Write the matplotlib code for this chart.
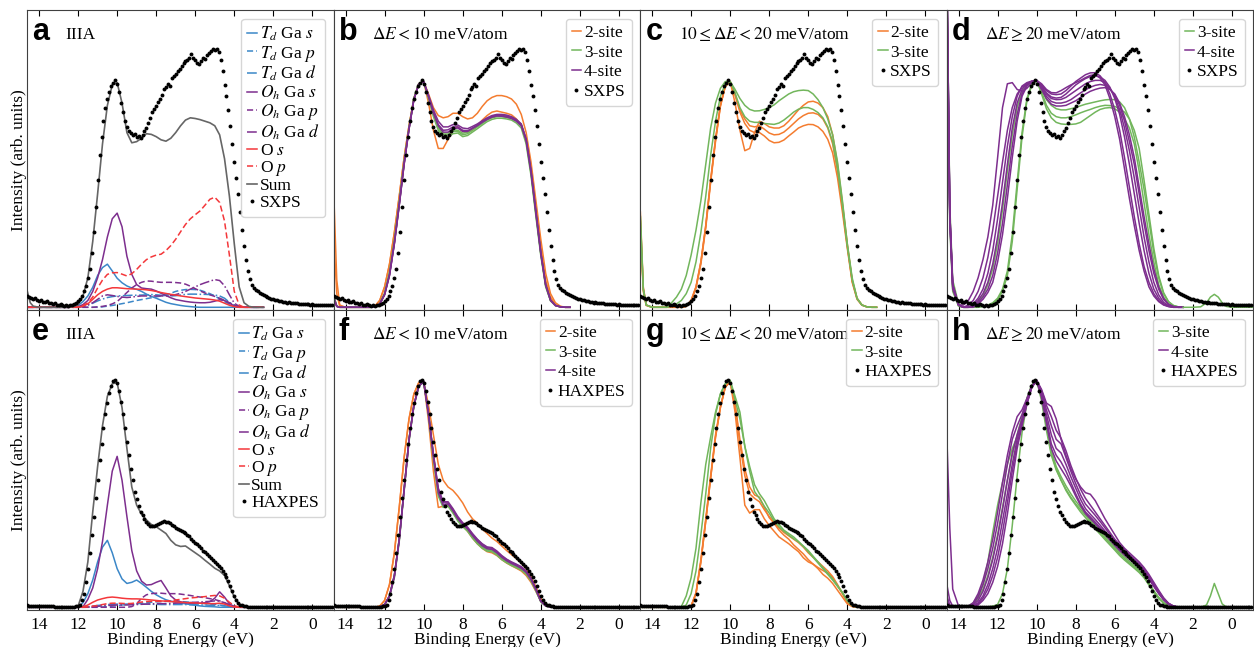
import numpy as np
import matplotlib
matplotlib.use("Agg")
import matplotlib.pyplot as plt

plt.rcParams["font.family"] = ["Liberation Serif", "DejaVu Serif"]
plt.rcParams["mathtext.fontset"] = "stix"

# ---- energy axes (eV) ----
E_DATA = np.round(np.linspace(14.6, -1.0, 157), 2)
E_MODEL = np.concatenate([[14.6, 14.45, 14.3], np.arange(14.0, 2.49, -0.25)])
E_TAIL = [2.5, 2.0, 1.6, 1.3, 1.1, 0.9, 0.7, 0.5, 0.3, 0.0, -1.1]

# ---- experiment ----
SXPS = [0.050, 0.045, 0.041, 0.036, 0.039, 0.031, 0.028, 0.033, 0.025, 0.022,
        0.026, 0.020, 0.018, 0.015, 0.017, 0.012, 0.010, 0.013, 0.008, 0.006,
        0.009, 0.007, 0.010, 0.012, 0.015, 0.020, 0.027, 0.035, 0.050, 0.070,
        0.095, 0.13, 0.17, 0.24, 0.33, 0.44, 0.56, 0.67, 0.75, 0.82,
        0.88, 0.92, 0.95, 0.975, 0.99, 1.0, 0.985, 0.95, 0.90, 0.86,
        0.82, 0.795, 0.775, 0.77, 0.76, 0.765, 0.75, 0.755, 0.745, 0.76,
        0.775, 0.79, 0.81, 0.835, 0.86, 0.875, 0.885, 0.905, 0.92, 0.935,
        0.96, 0.97, 0.985, 0.975, 1.01, 1.02, 1.03, 1.04, 1.05, 1.065,
        1.075, 1.085, 1.09, 1.10, 1.115, 1.10, 1.09, 1.075, 1.07, 1.085,
        1.10, 1.095, 1.11, 1.12, 1.13, 1.14, 1.135, 1.14, 1.125, 1.09,
        1.04, 0.98, 0.93, 0.87, 0.80, 0.72, 0.64, 0.57, 0.50, 0.42,
        0.34, 0.27, 0.21, 0.16, 0.125, 0.10, 0.085, 0.075, 0.07, 0.062,
        0.058, 0.052, 0.049, 0.044, 0.041, 0.037, 0.035, 0.031, 0.030, 0.027,
        0.026, 0.024, 0.025, 0.021, 0.022, 0.019, 0.020, 0.017, 0.018, 0.015,
        0.016, 0.014, 0.015, 0.013, 0.014, 0.012, 0.013, 0.011, 0.012, 0.011,
        0.012, 0.010, 0.011, 0.010, 0.011, 0.009, 0.010]

HAXPES = [0.008, 0.007, 0.007, 0.006, 0.006, 0.006, 0.005, 0.005, 0.005, 0.005,
          0.004, 0.004, 0.004, 0.004, 0.003, 0.003, 0.003, 0.003, 0.003, 0.003,
          0.003, 0.003, 0.003, 0.003, 0.003, 0.004, 0.006, 0.012, 0.03, 0.06,
          0.11, 0.17, 0.24, 0.32, 0.40, 0.48, 0.56, 0.65, 0.72, 0.79,
          0.85, 0.90, 0.945, 0.975, 0.995, 1.0, 0.99, 0.955, 0.905, 0.85,
          0.79, 0.73, 0.67, 0.61, 0.56, 0.51, 0.475, 0.445, 0.42, 0.405,
          0.39, 0.375, 0.365, 0.36, 0.357, 0.358, 0.362, 0.368, 0.373, 0.376,
          0.378, 0.377, 0.374, 0.37, 0.364, 0.357, 0.35, 0.345, 0.34, 0.335,
          0.33, 0.326, 0.32, 0.312, 0.303, 0.294, 0.285, 0.277, 0.268, 0.26,
          0.25, 0.242, 0.235, 0.226, 0.217, 0.208, 0.2, 0.192, 0.183, 0.172,
          0.16, 0.147, 0.132, 0.115, 0.095, 0.072, 0.05, 0.032, 0.02, 0.012,
          0.008, 0.005, 0.004, 0.003, 0.003, 0.003, 0.003, 0.003, 0.003, 0.003,
          0.003, 0.003, 0.002, 0.003, 0.003, 0.002, 0.003, 0.003, 0.002, 0.003,
          0.003, 0.002, 0.003, 0.003, 0.002, 0.003, 0.003, 0.002, 0.003, 0.003,
          0.002, 0.003, 0.003, 0.002, 0.003, 0.003, 0.002, 0.003, 0.003, 0.002,
          0.003, 0.003, 0.002, 0.003, 0.003, 0.002, 0.003]

# ---- panel a: projected DOS, IIIA vs SXPS ----
A_TD_S = [0, 0, 0, 0, 0, 0, 0, 0, 0, 0,
          0.002, 0.008, 0.025, 0.05, 0.088, 0.14, 0.175, 0.19, 0.16, 0.128,
          0.108, 0.094, 0.085, 0.079, 0.07, 0.058, 0.048, 0.04, 0.031, 0.022,
          0.016, 0.012, 0.008, 0.005, 0.003, 0.001, 0, 0, 0, 0,
          0, 0, 0, 0, 0, 0, 0, 0, 0, 0]
A_TD_P = [0, 0, 0, 0, 0, 0, 0, 0, 0, 0,
          0, 0, 0, 0, 0, 0, 0.002, 0.005, 0.008, 0.012,
          0.016, 0.02, 0.025, 0.03, 0.034, 0.038, 0.042, 0.046, 0.05, 0.055,
          0.062, 0.07, 0.075, 0.078, 0.079, 0.078, 0.075, 0.068, 0.06, 0.05,
          0.037, 0.025, 0.014, 0.006, 0.001, 0, 0, 0, 0, 0]
A_TD_D = [0, 0, 0, 0, 0, 0, 0, 0, 0, 0,
          0.001, 0.002, 0.005, 0.01, 0.018, 0.028, 0.036, 0.043, 0.047, 0.05,
          0.051, 0.052, 0.053, 0.053, 0.054, 0.055, 0.056, 0.055, 0.053, 0.051,
          0.05, 0.051, 0.054, 0.057, 0.058, 0.058, 0.057, 0.057, 0.056, 0.054,
          0.05, 0.04, 0.022, 0.008, 0.002, 0, 0, 0, 0, 0]
A_OH_S = [0, 0, 0, 0, 0, 0, 0, 0, 0, 0,
          0, 0.002, 0.012, 0.03, 0.07, 0.13, 0.21, 0.31, 0.39, 0.415,
          0.355, 0.225, 0.145, 0.1, 0.085, 0.082, 0.08, 0.072, 0.062, 0.052,
          0.042, 0.034, 0.03, 0.026, 0.023, 0.021, 0.02, 0.02, 0.022, 0.027,
          0.033, 0.03, 0.018, 0.006, 0, 0, 0, 0, 0, 0]
A_OH_P = [0, 0, 0, 0, 0, 0, 0, 0, 0, 0,
          0, 0, 0, 0, 0, 0.002, 0.004, 0.008, 0.015, 0.025,
          0.045, 0.065, 0.085, 0.1, 0.11, 0.116, 0.115, 0.112, 0.11, 0.11,
          0.11, 0.109, 0.107, 0.102, 0.093, 0.082, 0.072, 0.063, 0.055, 0.048,
          0.04, 0.031, 0.02, 0.008, 0.002, 0, 0, 0, 0, 0]
A_OH_D = [0, 0, 0, 0, 0, 0, 0, 0, 0, 0,
          0, 0, 0.003, 0.01, 0.02, 0.035, 0.05, 0.055, 0.052, 0.048,
          0.045, 0.043, 0.045, 0.048, 0.05, 0.05, 0.05, 0.05, 0.05, 0.05,
          0.052, 0.056, 0.062, 0.07, 0.08, 0.09, 0.1, 0.108, 0.115, 0.122,
          0.118, 0.095, 0.055, 0.018, 0.004, 0, 0, 0, 0, 0]
A_O_S = [0, 0, 0, 0, 0, 0, 0, 0, 0, 0,
         0, 0, 0.005, 0.015, 0.035, 0.055, 0.07, 0.08, 0.086, 0.086,
         0.084, 0.082, 0.081, 0.08, 0.079, 0.077, 0.074, 0.07, 0.065, 0.061,
         0.057, 0.054, 0.05, 0.047, 0.044, 0.041, 0.039, 0.037, 0.035, 0.032,
         0.027, 0.018, 0.009, 0.003, 0, 0, 0, 0, 0, 0]
A_O_P = [0, 0, 0, 0, 0, 0, 0, 0, 0, 0,
         0, 0.002, 0.008, 0.02, 0.045, 0.085, 0.12, 0.145, 0.152, 0.153,
         0.146, 0.138, 0.148, 0.167, 0.19, 0.21, 0.222, 0.23, 0.234, 0.25,
         0.272, 0.3, 0.333, 0.365, 0.39, 0.408, 0.425, 0.45, 0.476, 0.485,
         0.462, 0.38, 0.23, 0.07, 0.01, 0, 0, 0, 0, 0]
A_SUM = [0.07, 0.02, 0.005, 0, 0, 0, 0, 0, 0, 0,
         0.003, 0.012, 0.05, 0.13, 0.29, 0.5, 0.72, 0.89, 0.98, 0.99,
         0.9, 0.77, 0.725, 0.73, 0.745, 0.765, 0.762, 0.752, 0.738, 0.732,
         0.745, 0.77, 0.8, 0.825, 0.835, 0.832, 0.827, 0.82, 0.813, 0.8,
         0.76, 0.655, 0.49, 0.28, 0.09, 0.02, 0.004, 0, 0, 0]

# ---- panel e: projected DOS, IIIA vs HAXPES ----
E_TD_S = [0, 0, 0, 0, 0, 0, 0, 0, 0, 0,
          0, 0.002, 0.02, 0.06, 0.12, 0.2, 0.265, 0.295, 0.24, 0.17,
          0.125, 0.105, 0.11, 0.12, 0.105, 0.088, 0.07, 0.055, 0.043, 0.033,
          0.027, 0.022, 0.018, 0.015, 0.012, 0.009, 0.006, 0.004, 0.003, 0.002,
          0, 0, 0, 0, 0, 0, 0, 0, 0, 0]
E_TD_P = [0, 0, 0, 0, 0, 0, 0, 0, 0, 0,
          0, 0, 0, 0, 0, 0, 0.001, 0.003, 0.005, 0.008,
          0.01, 0.012, 0.013, 0.015, 0.018, 0.02, 0.022, 0.024, 0.025, 0.026,
          0.026, 0.026, 0.025, 0.024, 0.022, 0.02, 0.018, 0.016, 0.014, 0.012,
          0.01, 0.007, 0.004, 0.002, 0, 0, 0, 0, 0, 0]
E_TD_D = [0, 0, 0, 0, 0, 0, 0, 0, 0, 0,
          0, 0, 0, 0.002, 0.005, 0.008, 0.01, 0.012, 0.013, 0.014,
          0.014, 0.014, 0.014, 0.014, 0.014, 0.014, 0.013, 0.013, 0.012, 0.012,
          0.012, 0.012, 0.012, 0.012, 0.011, 0.011, 0.01, 0.01, 0.009, 0.009,
          0.008, 0.006, 0.004, 0.002, 0, 0, 0, 0, 0, 0]
E_OH_S = [0, 0, 0, 0, 0, 0, 0, 0, 0, 0,
          0, 0, 0.002, 0.035, 0.085, 0.17, 0.29, 0.45, 0.6, 0.665,
          0.56, 0.4, 0.25, 0.16, 0.115, 0.098, 0.1, 0.11, 0.118, 0.085,
          0.05, 0.032, 0.024, 0.02, 0.018, 0.018, 0.018, 0.02, 0.025, 0.04,
          0.068, 0.045, 0.015, 0.003, 0, 0, 0, 0, 0, 0]
E_OH_P = [0, 0, 0, 0, 0, 0, 0, 0, 0, 0,
          0, 0, 0, 0, 0, 0, 0, 0, 0, 0,
          0, 0, 0.003, 0.015, 0.04, 0.055, 0.06, 0.062, 0.062, 0.06,
          0.06, 0.06, 0.058, 0.055, 0.052, 0.048, 0.045, 0.042, 0.038, 0.034,
          0.028, 0.02, 0.01, 0.003, 0, 0, 0, 0, 0, 0]
E_OH_D = [0, 0, 0, 0, 0, 0, 0, 0, 0, 0,
          0, 0, 0, 0, 0.002, 0.004, 0.006, 0.008, 0.009, 0.01,
          0.01, 0.01, 0.011, 0.012, 0.013, 0.014, 0.015, 0.016, 0.016, 0.016,
          0.017, 0.018, 0.019, 0.02, 0.021, 0.022, 0.023, 0.025, 0.026, 0.028,
          0.027, 0.02, 0.01, 0.002, 0, 0, 0, 0, 0, 0]
E_O_S = [0, 0, 0, 0, 0, 0, 0, 0, 0, 0,
         0, 0, 0.002, 0.01, 0.022, 0.032, 0.038, 0.043, 0.045, 0.043,
         0.04, 0.038, 0.037, 0.037, 0.036, 0.034, 0.032, 0.03, 0.028, 0.027,
         0.025, 0.024, 0.022, 0.021, 0.02, 0.019, 0.018, 0.017, 0.016, 0.016,
         0.018, 0.014, 0.006, 0.001, 0, 0, 0, 0, 0, 0]
E_O_P = [0, 0, 0, 0, 0, 0, 0, 0, 0, 0,
         0, 0, 0, 0.002, 0.005, 0.008, 0.012, 0.016, 0.018, 0.018,
         0.017, 0.016, 0.017, 0.02, 0.023, 0.025, 0.026, 0.026, 0.026, 0.027,
         0.029, 0.032, 0.035, 0.038, 0.041, 0.043, 0.045, 0.047, 0.05, 0.052,
         0.05, 0.04, 0.022, 0.007, 0.001, 0, 0, 0, 0, 0]
E_SUM = [0, 0, 0, 0, 0, 0, 0, 0, 0, 0,
         0, 0.005, 0.07, 0.2, 0.42, 0.62, 0.8, 0.93, 0.985, 0.99,
         0.88, 0.7, 0.53, 0.45, 0.41, 0.385, 0.365, 0.355, 0.34, 0.325,
         0.295, 0.275, 0.268, 0.27, 0.255, 0.24, 0.225, 0.207, 0.19, 0.172,
         0.16, 0.14, 0.095, 0.045, 0.012, 0.002, 0, 0, 0, 0]

# ---- panel b: dE < 10 meV/atom, SXPS ----
B_2SITE = [
    [0.49, 0.12, 0.01, 0, 0, 0, 0, 0, 0, 0.005,
     0.03, 0.09, 0.19, 0.33, 0.49, 0.66, 0.8, 0.92, 0.985, 0.995,
     0.94, 0.88, 0.845, 0.835, 0.84, 0.855, 0.855, 0.84, 0.83, 0.835,
     0.855, 0.885, 0.91, 0.925, 0.933, 0.933, 0.928, 0.918, 0.895, 0.85,
     0.77, 0.64, 0.47, 0.3, 0.15, 0.06, 0.02, 0.005, 0, 0],
    [0.3, 0.06, 0.005, 0, 0, 0, 0, 0, 0, 0.005,
     0.03, 0.09, 0.19, 0.33, 0.49, 0.66, 0.8, 0.92, 0.985, 0.995,
     0.9, 0.78, 0.7, 0.7, 0.74, 0.785, 0.795, 0.775, 0.772, 0.78,
     0.8, 0.825, 0.845, 0.86, 0.865, 0.86, 0.855, 0.848, 0.83, 0.8,
     0.74, 0.61, 0.44, 0.27, 0.12, 0.045, 0.012, 0.003, 0, 0],
]
B_3SITE = [
    [0.05, 0.005, 0, 0, 0, 0, 0, 0, 0, 0.003,
     0.015, 0.06, 0.15, 0.29, 0.46, 0.64, 0.79, 0.92, 0.985, 0.995,
     0.925, 0.85, 0.79, 0.76, 0.76, 0.775, 0.775, 0.76, 0.765, 0.78,
     0.795, 0.81, 0.825, 0.835, 0.84, 0.84, 0.837, 0.832, 0.82, 0.8,
     0.73, 0.59, 0.41, 0.235, 0.095, 0.03, 0.008, 0.002, 0, 0],
    [0.04, 0.004, 0, 0, 0, 0, 0, 0, 0, 0.003,
     0.014, 0.058, 0.145, 0.285, 0.455, 0.635, 0.787, 0.918, 0.984, 0.995,
     0.92, 0.84, 0.78, 0.75, 0.75, 0.765, 0.768, 0.752, 0.757, 0.772,
     0.787, 0.803, 0.818, 0.828, 0.833, 0.833, 0.83, 0.825, 0.812, 0.79,
     0.72, 0.58, 0.4, 0.228, 0.09, 0.028, 0.007, 0.002, 0, 0],
    [0.05, 0.005, 0, 0, 0, 0, 0, 0, 0, 0.003,
     0.016, 0.062, 0.155, 0.295, 0.465, 0.645, 0.793, 0.922, 0.986, 0.995,
     0.93, 0.855, 0.797, 0.768, 0.768, 0.782, 0.78, 0.767, 0.772, 0.787,
     0.802, 0.817, 0.832, 0.842, 0.847, 0.847, 0.844, 0.838, 0.826, 0.806,
     0.736, 0.596, 0.415, 0.24, 0.098, 0.031, 0.008, 0.002, 0, 0],
]
B_4SITE = [
    [0.04, 0.004, 0, 0, 0, 0, 0, 0, 0, 0.003,
     0.014, 0.055, 0.14, 0.28, 0.45, 0.63, 0.785, 0.915, 0.983, 0.995,
     0.93, 0.86, 0.805, 0.78, 0.782, 0.795, 0.795, 0.78, 0.778, 0.79,
     0.803, 0.817, 0.83, 0.84, 0.845, 0.845, 0.842, 0.836, 0.825, 0.805,
     0.74, 0.6, 0.42, 0.24, 0.1, 0.032, 0.008, 0.002, 0, 0],
    [0.04, 0.004, 0, 0, 0, 0, 0, 0, 0, 0.003,
     0.014, 0.055, 0.14, 0.28, 0.45, 0.63, 0.785, 0.915, 0.983, 0.995,
     0.935, 0.87, 0.82, 0.795, 0.795, 0.805, 0.803, 0.79, 0.787, 0.797,
     0.808, 0.822, 0.835, 0.845, 0.85, 0.85, 0.847, 0.84, 0.828, 0.808,
     0.742, 0.605, 0.425, 0.245, 0.1, 0.032, 0.008, 0.002, 0, 0],
    [0.04, 0.004, 0, 0, 0, 0, 0, 0, 0, 0.003,
     0.015, 0.058, 0.145, 0.285, 0.455, 0.635, 0.788, 0.917, 0.984, 0.995,
     0.928, 0.855, 0.8, 0.772, 0.772, 0.787, 0.79, 0.775, 0.775, 0.788,
     0.8, 0.815, 0.828, 0.838, 0.843, 0.842, 0.838, 0.832, 0.82, 0.8,
     0.735, 0.595, 0.415, 0.238, 0.097, 0.03, 0.008, 0.002, 0, 0],
]

# ---- panel c: 10 <= dE < 20 meV/atom, SXPS ----
C_2SITE = [
    [0.42, 0.09, 0.01, 0, 0, 0, 0, 0, 0, 0,
     0.005, 0.03, 0.09, 0.2, 0.36, 0.56, 0.74, 0.89, 0.975, 0.995,
     0.9, 0.78, 0.69, 0.7, 0.77, 0.82, 0.81, 0.795, 0.79, 0.79,
     0.8, 0.82, 0.845, 0.87, 0.89, 0.905, 0.908, 0.9, 0.88, 0.84,
     0.76, 0.63, 0.46, 0.28, 0.12, 0.04, 0.01, 0.002, 0, 0],
    [0.38, 0.08, 0.01, 0, 0, 0, 0, 0, 0, 0,
     0.005, 0.03, 0.09, 0.2, 0.36, 0.56, 0.74, 0.89, 0.975, 0.995,
     0.94, 0.87, 0.83, 0.8, 0.795, 0.8, 0.785, 0.768, 0.76, 0.762,
     0.772, 0.79, 0.81, 0.83, 0.845, 0.855, 0.857, 0.85, 0.83, 0.79,
     0.72, 0.6, 0.44, 0.27, 0.115, 0.038, 0.01, 0.002, 0, 0],
    [0.35, 0.07, 0.008, 0, 0, 0, 0, 0, 0, 0,
     0.004, 0.025, 0.085, 0.19, 0.35, 0.55, 0.73, 0.885, 0.973, 0.995,
     0.935, 0.86, 0.81, 0.78, 0.77, 0.77, 0.755, 0.735, 0.725, 0.727,
     0.737, 0.755, 0.772, 0.79, 0.8, 0.806, 0.805, 0.795, 0.775, 0.74,
     0.68, 0.57, 0.42, 0.26, 0.11, 0.035, 0.009, 0.002, 0, 0],
]
C_3SITE = [
    [0.4, 0.08, 0.01, 0, 0, 0, 0, 0.02, 0.045, 0.08,
     0.14, 0.23, 0.34, 0.47, 0.63, 0.79, 0.9, 0.965, 0.995, 0.995,
     0.96, 0.92, 0.89, 0.872, 0.865, 0.866, 0.872, 0.88, 0.892, 0.91,
     0.925, 0.94, 0.95, 0.955, 0.957, 0.955, 0.94, 0.915, 0.88, 0.83,
     0.76, 0.64, 0.47, 0.28, 0.13, 0.04, 0.01, 0.002, 0, 0],
    [0.4, 0.08, 0.01, 0, 0, 0, 0, 0.005, 0.015, 0.03,
     0.06, 0.11, 0.2, 0.33, 0.49, 0.67, 0.82, 0.93, 0.985, 0.995,
     0.945, 0.88, 0.84, 0.82, 0.815, 0.815, 0.81, 0.808, 0.806, 0.812,
     0.825, 0.842, 0.86, 0.873, 0.88, 0.88, 0.872, 0.858, 0.835, 0.795,
     0.73, 0.61, 0.45, 0.27, 0.12, 0.038, 0.01, 0.002, 0, 0],
]

# ---- panel d: dE >= 20 meV/atom, SXPS ----
D_3SITE = [
    [1.5, 0.45, 0.12, 0.015, 0, 0, 0.01, 0.025, 0.05, 0.1,
     0.17, 0.28, 0.43, 0.6, 0.76, 0.88, 0.95, 0.98, 0.995, 1.0,
     0.96, 0.915, 0.89, 0.875, 0.87, 0.87, 0.875, 0.88, 0.888, 0.895,
     0.9, 0.905, 0.91, 0.914, 0.916, 0.915, 0.905, 0.88, 0.83, 0.75,
     0.64, 0.52, 0.38, 0.24, 0.13, 0.06, 0.025, 0.008, 0.002, 0],
    [1.4, 0.36, 0.07, 0.005, 0, 0, 0, 0, 0.005, 0.01,
     0.02, 0.04, 0.08, 0.16, 0.32, 0.55, 0.77, 0.92, 0.985, 1.0,
     0.95, 0.89, 0.855, 0.84, 0.835, 0.835, 0.84, 0.848, 0.857, 0.865,
     0.872, 0.88, 0.886, 0.89, 0.889, 0.885, 0.875, 0.86, 0.83, 0.78,
     0.7, 0.56, 0.41, 0.26, 0.14, 0.065, 0.025, 0.008, 0.002, 0],
    [1.45, 0.4, 0.08, 0.005, 0, 0, 0, 0, 0.004, 0.008,
     0.016, 0.033, 0.07, 0.14, 0.29, 0.52, 0.75, 0.91, 0.98, 1.0,
     0.94, 0.875, 0.835, 0.815, 0.808, 0.806, 0.806, 0.808, 0.815, 0.83,
     0.845, 0.86, 0.872, 0.878, 0.88, 0.875, 0.86, 0.83, 0.79, 0.72,
     0.6, 0.46, 0.32, 0.2, 0.1, 0.045, 0.016, 0.005, 0.001, 0],
]
D_4SITE = [
    [1.5, 0.42, 0.1, 0.01, 0.01, 0.03, 0.07, 0.13, 0.21, 0.31,
     0.45, 0.66, 0.88, 0.985, 0.99, 0.96, 0.952, 0.965, 0.99, 1.0,
     0.985, 0.96, 0.946, 0.945, 0.955, 0.968, 0.98, 0.99, 1.0, 1.012,
     1.022, 1.025, 1.01, 0.98, 0.92, 0.84, 0.74, 0.61, 0.48, 0.36,
     0.25, 0.16, 0.09, 0.05, 0.025, 0.01, 0.003, 0, 0, 0],
    [1.4, 0.38, 0.08, 0.01, 0, 0.01, 0.03, 0.07, 0.13, 0.22,
     0.34, 0.49, 0.64, 0.78, 0.88, 0.94, 0.97, 0.985, 0.995, 1.0,
     0.98, 0.955, 0.94, 0.937, 0.94, 0.955, 0.975, 0.995, 1.01, 1.025,
     1.033, 1.034, 1.02, 0.99, 0.94, 0.87, 0.78, 0.66, 0.53, 0.4,
     0.28, 0.18, 0.11, 0.06, 0.03, 0.012, 0.004, 0, 0, 0],
    [1.45, 0.4, 0.09, 0.01, 0, 0, 0.015, 0.04, 0.08, 0.15,
     0.25, 0.39, 0.55, 0.71, 0.84, 0.93, 0.975, 0.99, 0.997, 1.0,
     0.975, 0.945, 0.927, 0.922, 0.925, 0.94, 0.96, 0.98, 0.995, 1.008,
     1.017, 1.02, 1.015, 1.0, 0.97, 0.92, 0.85, 0.75, 0.63, 0.5,
     0.37, 0.25, 0.15, 0.08, 0.04, 0.015, 0.005, 0, 0, 0],
    [1.5, 0.42, 0.1, 0.01, 0, 0, 0.01, 0.03, 0.06, 0.11,
     0.19, 0.31, 0.46, 0.63, 0.79, 0.9, 0.96, 0.985, 0.996, 1.0,
     0.97, 0.94, 0.92, 0.915, 0.916, 0.925, 0.94, 0.955, 0.97, 0.985,
     0.995, 1.0, 1.0, 0.99, 0.965, 0.93, 0.87, 0.79, 0.69, 0.57,
     0.44, 0.31, 0.2, 0.11, 0.055, 0.022, 0.007, 0.002, 0, 0],
    [1.45, 0.4, 0.09, 0.01, 0, 0, 0.005, 0.02, 0.045, 0.08,
     0.14, 0.24, 0.37, 0.54, 0.71, 0.85, 0.94, 0.98, 0.995, 1.0,
     0.965, 0.93, 0.907, 0.9, 0.9, 0.905, 0.915, 0.93, 0.945, 0.958,
     0.97, 0.978, 0.982, 0.978, 0.962, 0.935, 0.89, 0.82, 0.73, 0.63,
     0.5, 0.37, 0.25, 0.15, 0.08, 0.035, 0.012, 0.003, 0, 0],
    [1.5, 0.42, 0.1, 0.01, 0, 0, 0, 0.015, 0.035, 0.065,
     0.11, 0.2, 0.32, 0.48, 0.66, 0.82, 0.93, 0.975, 0.995, 1.0,
     0.96, 0.92, 0.895, 0.887, 0.887, 0.89, 0.9, 0.91, 0.925, 0.94,
     0.952, 0.96, 0.966, 0.968, 0.96, 0.94, 0.9, 0.84, 0.76, 0.66,
     0.53, 0.4, 0.28, 0.17, 0.09, 0.04, 0.014, 0.004, 0, 0],
]
D_TAIL = [0, 0, 0.002, 0.02, 0.045, 0.057, 0.045, 0.02, 0.004, 0, 0]

# ---- panel f: dE < 10 meV/atom, HAXPES ----
F_2SITE = [
    [0.01, 0, 0, 0, 0, 0, 0, 0, 0, 0,
     0.005, 0.03, 0.1, 0.24, 0.44, 0.66, 0.83, 0.94, 0.99, 0.995,
     0.89, 0.76, 0.63, 0.56, 0.53, 0.515, 0.49, 0.46, 0.42, 0.39,
     0.37, 0.345, 0.325, 0.305, 0.29, 0.27, 0.25, 0.232, 0.215, 0.195,
     0.17, 0.135, 0.09, 0.04, 0.012, 0.003, 0, 0, 0, 0],
    [0.01, 0, 0, 0, 0, 0, 0, 0, 0, 0,
     0.005, 0.03, 0.1, 0.24, 0.44, 0.66, 0.83, 0.94, 0.99, 0.995,
     0.82, 0.6, 0.44, 0.445, 0.455, 0.43, 0.39, 0.36, 0.335, 0.305,
     0.28, 0.26, 0.245, 0.24, 0.228, 0.21, 0.195, 0.183, 0.172, 0.16,
     0.14, 0.11, 0.07, 0.028, 0.008, 0.002, 0, 0, 0, 0],
]
F_3SITE = [
    [0.008, 0, 0, 0, 0, 0, 0, 0, 0, 0,
     0.002, 0.012, 0.05, 0.14, 0.3, 0.52, 0.74, 0.89, 0.975, 0.995,
     0.85, 0.66, 0.5, 0.445, 0.45, 0.42, 0.385, 0.36, 0.34, 0.31,
     0.285, 0.265, 0.252, 0.25, 0.235, 0.215, 0.2, 0.188, 0.178, 0.168,
     0.15, 0.12, 0.075, 0.025, 0.006, 0.001, 0, 0, 0, 0],
    [0.008, 0, 0, 0, 0, 0, 0, 0, 0, 0,
     0.002, 0.01, 0.045, 0.13, 0.29, 0.51, 0.73, 0.885, 0.973, 0.995,
     0.845, 0.65, 0.49, 0.44, 0.445, 0.415, 0.38, 0.355, 0.335, 0.305,
     0.28, 0.26, 0.247, 0.245, 0.23, 0.21, 0.196, 0.184, 0.174, 0.164,
     0.146, 0.116, 0.072, 0.024, 0.006, 0.001, 0, 0, 0, 0],
    [0.008, 0, 0, 0, 0, 0, 0, 0, 0, 0,
     0.002, 0.012, 0.05, 0.14, 0.3, 0.52, 0.74, 0.89, 0.975, 0.995,
     0.855, 0.67, 0.51, 0.45, 0.455, 0.425, 0.39, 0.365, 0.345, 0.315,
     0.29, 0.27, 0.257, 0.254, 0.24, 0.22, 0.204, 0.192, 0.182, 0.172,
     0.154, 0.123, 0.078, 0.026, 0.006, 0.001, 0, 0, 0, 0],
]
F_4SITE = [
    [0.008, 0, 0, 0, 0, 0, 0, 0, 0, 0,
     0.002, 0.012, 0.05, 0.14, 0.3, 0.52, 0.74, 0.89, 0.975, 0.995,
     0.85, 0.67, 0.52, 0.46, 0.46, 0.43, 0.395, 0.37, 0.35, 0.322,
     0.298, 0.277, 0.263, 0.26, 0.245, 0.226, 0.21, 0.197, 0.187, 0.176,
     0.158, 0.126, 0.08, 0.027, 0.007, 0.001, 0, 0, 0, 0],
    [0.008, 0, 0, 0, 0, 0, 0, 0, 0, 0,
     0.002, 0.011, 0.048, 0.135, 0.295, 0.515, 0.735, 0.888, 0.974, 0.995,
     0.855, 0.675, 0.525, 0.465, 0.465, 0.435, 0.4, 0.373, 0.353, 0.325,
     0.3, 0.28, 0.266, 0.263, 0.248, 0.228, 0.212, 0.2, 0.19, 0.179,
     0.16, 0.128, 0.082, 0.028, 0.007, 0.001, 0, 0, 0, 0],
    [0.008, 0, 0, 0, 0, 0, 0, 0, 0, 0,
     0.002, 0.012, 0.05, 0.14, 0.3, 0.52, 0.74, 0.89, 0.975, 0.995,
     0.85, 0.665, 0.505, 0.45, 0.455, 0.425, 0.39, 0.365, 0.345, 0.316,
     0.291, 0.271, 0.258, 0.255, 0.24, 0.22, 0.205, 0.193, 0.183, 0.172,
     0.154, 0.123, 0.078, 0.026, 0.006, 0.001, 0, 0, 0, 0],
]

# ---- panel g: 10 <= dE < 20 meV/atom, HAXPES ----
G_2SITE = [
    [0, 0, 0, 0, 0, 0, 0, 0, 0, 0,
     0.001, 0.005, 0.06, 0.2, 0.38, 0.57, 0.75, 0.88, 0.97, 0.995,
     0.86, 0.66, 0.45, 0.415, 0.43, 0.43, 0.39, 0.36, 0.335, 0.31,
     0.295, 0.28, 0.262, 0.245, 0.218, 0.2, 0.19, 0.175, 0.162, 0.15,
     0.13, 0.095, 0.06, 0.022, 0.005, 0, 0, 0, 0, 0],
    [0, 0, 0, 0, 0, 0, 0, 0, 0, 0,
     0.001, 0.005, 0.06, 0.2, 0.38, 0.57, 0.75, 0.88, 0.97, 0.995,
     0.9, 0.74, 0.61, 0.53, 0.495, 0.485, 0.44, 0.395, 0.37, 0.34,
     0.318, 0.3, 0.275, 0.255, 0.235, 0.21, 0.19, 0.17, 0.145, 0.128,
     0.105, 0.075, 0.045, 0.015, 0.003, 0, 0, 0, 0, 0],
    [0, 0, 0, 0, 0, 0, 0, 0, 0, 0,
     0.001, 0.006, 0.065, 0.21, 0.39, 0.58, 0.76, 0.885, 0.972, 0.995,
     0.89, 0.72, 0.58, 0.5, 0.48, 0.465, 0.43, 0.4, 0.375, 0.35,
     0.33, 0.315, 0.3, 0.285, 0.265, 0.24, 0.22, 0.2, 0.18, 0.16,
     0.135, 0.1, 0.062, 0.024, 0.005, 0, 0, 0, 0, 0],
]
G_3SITE = [
    [0, 0, 0, 0, 0, 0, 0, 0, 0, 0.003,
     0.05, 0.13, 0.26, 0.46, 0.63, 0.75, 0.86, 0.94, 0.985, 1.0,
     0.915, 0.83, 0.71, 0.62, 0.54, 0.5, 0.47, 0.43, 0.39, 0.365,
     0.34, 0.325, 0.31, 0.29, 0.268, 0.245, 0.22, 0.195, 0.17, 0.145,
     0.12, 0.092, 0.065, 0.03, 0.008, 0.001, 0, 0, 0, 0],
    [0, 0, 0, 0, 0, 0, 0, 0, 0, 0,
     0.01, 0.06, 0.16, 0.32, 0.5, 0.7, 0.85, 0.94, 0.985, 1.0,
     0.93, 0.86, 0.71, 0.6, 0.51, 0.48, 0.445, 0.415, 0.38, 0.355,
     0.335, 0.318, 0.302, 0.288, 0.27, 0.25, 0.225, 0.2, 0.175, 0.15,
     0.125, 0.095, 0.065, 0.028, 0.007, 0.001, 0, 0, 0, 0],
]

# ---- panel h: dE >= 20 meV/atom, HAXPES ----
H_3SITE = [
    [0, 0, 0, 0, 0, 0.005, 0.02, 0.05, 0.1, 0.2,
     0.33, 0.45, 0.55, 0.63, 0.7, 0.75, 0.83, 0.92, 0.98, 1.0,
     0.93, 0.8, 0.68, 0.61, 0.56, 0.52, 0.485, 0.455, 0.43, 0.405,
     0.38, 0.355, 0.33, 0.305, 0.282, 0.26, 0.235, 0.215, 0.195, 0.177,
     0.158, 0.133, 0.102, 0.07, 0.042, 0.02, 0.007, 0.002, 0, 0],
    [0, 0, 0, 0, 0, 0, 0, 0, 0, 0.002,
     0.005, 0.012, 0.06, 0.17, 0.36, 0.58, 0.77, 0.9, 0.975, 1.0,
     0.91, 0.78, 0.67, 0.605, 0.56, 0.515, 0.48, 0.45, 0.42, 0.395,
     0.37, 0.345, 0.322, 0.298, 0.275, 0.252, 0.228, 0.208, 0.19, 0.172,
     0.153, 0.13, 0.098, 0.066, 0.038, 0.018, 0.006, 0.001, 0, 0],
    [0, 0, 0, 0, 0, 0.003, 0.01, 0.04, 0.08, 0.14,
     0.22, 0.32, 0.44, 0.56, 0.67, 0.76, 0.84, 0.92, 0.98, 1.0,
     0.92, 0.8, 0.69, 0.62, 0.575, 0.535, 0.5, 0.468, 0.44, 0.413,
     0.388, 0.362, 0.338, 0.313, 0.29, 0.266, 0.243, 0.222, 0.202, 0.183,
     0.163, 0.138, 0.106, 0.073, 0.044, 0.021, 0.007, 0.002, 0, 0],
]
H_4SITE = [
    [0.75, 0.35, 0.08, 0.005, 0, 0.005, 0.02, 0.06, 0.12, 0.2,
     0.3, 0.42, 0.55, 0.67, 0.77, 0.84, 0.87, 0.92, 0.975, 1.0,
     0.96, 0.9, 0.885, 0.83, 0.74, 0.67, 0.61, 0.565, 0.53, 0.505,
     0.498, 0.47, 0.43, 0.39, 0.355, 0.32, 0.285, 0.26, 0.24, 0.22,
     0.2, 0.175, 0.145, 0.11, 0.075, 0.042, 0.018, 0.006, 0.001, 0],
    [0.1, 0.03, 0.005, 0, 0, 0.004, 0.015, 0.045, 0.1, 0.17,
     0.26, 0.37, 0.5, 0.63, 0.74, 0.8, 0.85, 0.915, 0.975, 1.0,
     0.955, 0.89, 0.84, 0.78, 0.745, 0.69, 0.625, 0.57, 0.52, 0.48,
     0.45, 0.42, 0.39, 0.36, 0.33, 0.3, 0.275, 0.252, 0.232, 0.212,
     0.192, 0.168, 0.138, 0.104, 0.07, 0.04, 0.017, 0.005, 0.001, 0],
    [0.05, 0.01, 0, 0, 0, 0.002, 0.01, 0.03, 0.07, 0.13,
     0.21, 0.31, 0.43, 0.56, 0.68, 0.76, 0.83, 0.91, 0.975, 1.0,
     0.95, 0.87, 0.8, 0.74, 0.72, 0.66, 0.6, 0.545, 0.495, 0.455,
     0.43, 0.405, 0.378, 0.35, 0.322, 0.294, 0.268, 0.246, 0.226, 0.207,
     0.187, 0.163, 0.133, 0.1, 0.067, 0.037, 0.016, 0.005, 0.001, 0],
    [0.03, 0.005, 0, 0, 0, 0, 0.006, 0.02, 0.05, 0.1,
     0.17, 0.26, 0.38, 0.5, 0.63, 0.74, 0.82, 0.9, 0.97, 1.0,
     0.94, 0.85, 0.76, 0.7, 0.68, 0.63, 0.575, 0.525, 0.475, 0.435,
     0.41, 0.387, 0.362, 0.336, 0.31, 0.284, 0.26, 0.24, 0.221, 0.202,
     0.182, 0.158, 0.128, 0.096, 0.064, 0.035, 0.015, 0.004, 0.001, 0],
    [0.02, 0, 0, 0, 0, 0, 0.004, 0.015, 0.04, 0.08,
     0.14, 0.22, 0.33, 0.46, 0.6, 0.72, 0.81, 0.9, 0.97, 1.0,
     0.93, 0.83, 0.72, 0.67, 0.64, 0.6, 0.55, 0.5, 0.455, 0.42,
     0.398, 0.375, 0.351, 0.327, 0.302, 0.277, 0.254, 0.234, 0.216, 0.198,
     0.178, 0.155, 0.126, 0.094, 0.062, 0.034, 0.014, 0.004, 0.001, 0],
    [0.02, 0, 0, 0, 0, 0, 0.003, 0.01, 0.03, 0.06,
     0.11, 0.18, 0.28, 0.41, 0.56, 0.7, 0.8, 0.895, 0.968, 1.0,
     0.925, 0.81, 0.7, 0.645, 0.61, 0.575, 0.535, 0.49, 0.448, 0.413,
     0.39, 0.368, 0.345, 0.321, 0.297, 0.273, 0.25, 0.23, 0.212, 0.195,
     0.176, 0.153, 0.124, 0.092, 0.06, 0.033, 0.014, 0.004, 0.001, 0],
]
H_TAIL = [0, 0, 0, 0.01, 0.05, 0.105, 0.06, 0.015, 0.002, 0, 0]

BLUE = "#3b87c8"
PURPLE = "#7d2e8e"
RED = "#f4373a"
GRAY = "#666666"
ORANGE = "#f47c2f"
GREEN = "#72b65c"
FS = 12.5

fig, axes = plt.subplots(2, 4, figsize=(12.54, 6.47), dpi=100, sharex=True, sharey=True)
fig.subplots_adjust(left=0.0218, right=0.9995, top=0.9845, bottom=0.0572, wspace=0, hspace=0)

LEG = dict(loc="upper right", fontsize=FS, handlelength=0.55, handletextpad=0.15,
           labelspacing=0.2, borderpad=0.35, borderaxespad=0.5, edgecolor="0.8")


def dots(ax, y, label):
    ax.plot(E_DATA, y, "o", color="k", ms=2.8, mew=0, label=label, zorder=4)


def models(ax, curves, color, label):
    for i, y in enumerate(curves):
        ax.plot(E_MODEL, y, color=color, lw=1.1, label=label if i == 0 else None)


def pdos(ax, comps, total, expt, expt_label):
    td_s, td_p, td_d, oh_s, oh_p, oh_d, o_s, o_p = comps
    ax.plot(E_MODEL, td_s, color=BLUE, lw=1.1, ls="-", label=r"$T_d$ Ga $s$")
    ax.plot(E_MODEL, td_p, color=BLUE, lw=1.1, ls=(0, (4, 2)), label=r"$T_d$ Ga $p$")
    ax.plot(E_MODEL, td_d, color=BLUE, lw=1.1, ls="-.", label=r"$T_d$ Ga $d$")
    ax.plot(E_MODEL, oh_s, color=PURPLE, lw=1.1, ls="-", label=r"$O_h$ Ga $s$")
    ax.plot(E_MODEL, oh_p, color=PURPLE, lw=1.1, ls=(0, (4, 2)), label=r"$O_h$ Ga $p$")
    ax.plot(E_MODEL, oh_d, color=PURPLE, lw=1.1, ls="-.", label=r"$O_h$ Ga $d$")
    ax.plot(E_MODEL, o_s, color=RED, lw=1.1, ls="-", label=r"O $s$")
    ax.plot(E_MODEL, o_p, color=RED, lw=1.1, ls=(0, (4, 2)), label=r"O $p$")
    ax.plot(E_MODEL, total, color=GRAY, lw=1.2, label="Sum")
    dots(ax, expt, expt_label)
    ax.text(0.125, 0.905, "IIIA", transform=ax.transAxes, fontsize=FS)
    ax.legend(**{**LEG, "labelspacing": 0.02})


pdos(axes[0, 0], [A_TD_S, A_TD_P, A_TD_D, A_OH_S, A_OH_P, A_OH_D, A_O_S, A_O_P], A_SUM, SXPS, "SXPS")
pdos(axes[1, 0], [E_TD_S, E_TD_P, E_TD_D, E_OH_S, E_OH_P, E_OH_D, E_O_S, E_O_P], E_SUM, HAXPES, "HAXPES")

titles = [r"$\Delta E < 10$ meV/atom", r"$10 \leq \Delta E < 20$ meV/atom", r"$\Delta E \geq 20$ meV/atom"]
groups = [
    [(B_2SITE, ORANGE, "2-site"), (B_3SITE, GREEN, "3-site"), (B_4SITE, PURPLE, "4-site")],
    [(C_2SITE, ORANGE, "2-site"), (C_3SITE, GREEN, "3-site")],
    [(D_3SITE, GREEN, "3-site"), (D_4SITE, PURPLE, "4-site")],
    [(F_2SITE, ORANGE, "2-site"), (F_3SITE, GREEN, "3-site"), (F_4SITE, PURPLE, "4-site")],
    [(G_2SITE, ORANGE, "2-site"), (G_3SITE, GREEN, "3-site")],
    [(H_3SITE, GREEN, "3-site"), (H_4SITE, PURPLE, "4-site")],
]
for k, grp in enumerate(groups):
    row, col = divmod(k, 3)
    ax = axes[row, col + 1]
    for curves, color, label in grp:
        models(ax, curves, color, label)
    dots(ax, SXPS if row == 0 else HAXPES, "SXPS" if row == 0 else "HAXPES")
    ax.text(0.125, 0.905, titles[col], transform=ax.transAxes, fontsize=FS)
    ax.legend(**LEG)

axes[0, 3].plot(E_TAIL, D_TAIL, color=GREEN, lw=1.1)
axes[1, 3].plot(E_TAIL, H_TAIL, color=GREEN, lw=1.1)

for i, ax in enumerate(axes.flat):
    ax.set_xlim(14.6, -1.1)
    ax.set_ylim(-0.012, 1.31)
    ax.set_xticks([14, 12, 10, 8, 6, 4, 2, 0])
    ax.tick_params(axis="x", direction="in", top=True, length=4, width=0.8,
                   pad=5, labelsize=FS)
    ax.tick_params(axis="y", left=False, labelleft=False)
    for s in ax.spines.values():
        s.set_linewidth(0.8)
        s.set_color("0.25")
    ax.text(0.016, 0.9, "abcdefgh"[i], transform=ax.transAxes, fontsize=22,
            fontweight="bold", family="Liberation Sans")

for ax in axes[:, 0]:
    ax.set_ylabel("Intensity (arb. units)", fontsize=FS, labelpad=0.5)
for ax in axes[1, :]:
    ax.set_xlabel("Binding Energy (eV)", fontsize=FS, labelpad=-1)

fig.savefig("out.png", dpi=100)
